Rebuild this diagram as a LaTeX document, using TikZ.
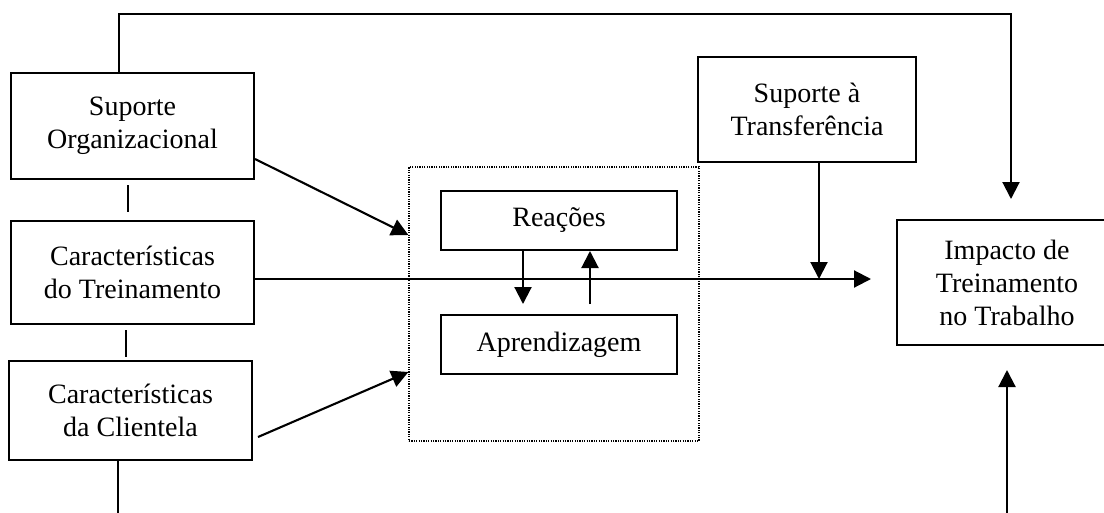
\documentclass[tikz,border=0pt]{standalone}
\usepackage{fontspec}
\setmainfont{Liberation Serif}
\usetikzlibrary{arrows.meta}
\begin{document}
\begin{tikzpicture}[x=1pt,y=-1pt,
  box/.style={draw, line width=2pt, inner sep=0pt, align=center,
    font=\fontsize{28}{33}\selectfont},
  arr/.style={line width=2.1pt, -{Triangle[length=17pt,width=17pt]}},
  link/.style={line width=2.1pt},
  frame/.style={draw, line width=1.2pt, dash pattern=on 1.2pt off 1.2pt}]
\clip (0,0) rectangle (1104,512);
\fill[white] (0,0) rectangle (1104,512);

% input boxes on the left
\node[box, minimum width=243pt, minimum height=106pt] (so) at (132.5,126) {Suporte\\Organizacional};
\node[box, minimum width=243pt, minimum height=103pt] (ct) at (132.5,272.5) {Características\\do Treinamento};
\node[box, minimum width=243pt, minimum height=99pt] (cc) at (130.5,410.5) {Características\\da Clientela};

% transfer support and outcome
\node[box, minimum width=218pt, minimum height=105pt] (st) at (807,109.5) {Suporte à\\Transferência};
\node[box, minimum width=220pt, minimum height=125pt] (im) at (1007,282.5) {Impacto de\\Treinamento\\no Trabalho};

% dotted group with reactions and learning
\node[frame, minimum width=290pt, minimum height=274pt, inner sep=0pt] (grp) at (554,304) {};
\node[box, minimum width=236pt, minimum height=59pt] (re) at (559,220.5) {Reações};
\node[box, minimum width=236pt, minimum height=59pt] (ap) at (559,344.5) {Aprendizagem};

% routing points
\coordinate (t1) at (119,14);
\coordinate (t2) at (1011,14);
\coordinate (hl) at (254,279);
\coordinate (b1) at (118,520);
\coordinate (b2) at (1007,520);

% top feedback path
\draw[arr, shorten >=20pt] ([xshift=-13.5pt]so.north) -- (t1) -- (t2) -- (t2 |- im.north);

% vertical links between left boxes
\draw[link, shorten <=5pt, shorten >=8pt] ([xshift=-4.5pt]so.south) -- ([xshift=-4.5pt]ct.north);
\draw[link, shorten <=5pt, shorten >=3pt] ([xshift=-6.5pt]ct.south) -- ([xshift=-4.5pt]cc.north);
\draw[link] (cc.south -| b1) -- (b1);

% main horizontal flow
\draw[arr, shorten >=25pt] (ct.east |- hl) -- (im.west |- hl);
\draw[arr] ([xshift=12pt]st.south) -- ([xshift=12pt]st.south |- hl);

% inputs to the group
\draw[arr] ([yshift=-33pt]so.east) -- ([yshift=69pt]grp.west);
\draw[arr] ([xshift=5pt,yshift=-26.5pt]cc.east) -- ([yshift=-68pt]grp.west);

% reactions and learning
\draw[arr, shorten >=10pt] ([xshift=-36pt]re.south) -- ([xshift=-36pt]ap.north);
\draw[arr, shorten <=10pt] ([xshift=31pt]ap.north) -- ([xshift=31pt]re.south);

% bottom path into the outcome
\draw[arr, shorten >=24pt] (b2) -- (b2 |- im.south);
\end{tikzpicture}
\end{document}
